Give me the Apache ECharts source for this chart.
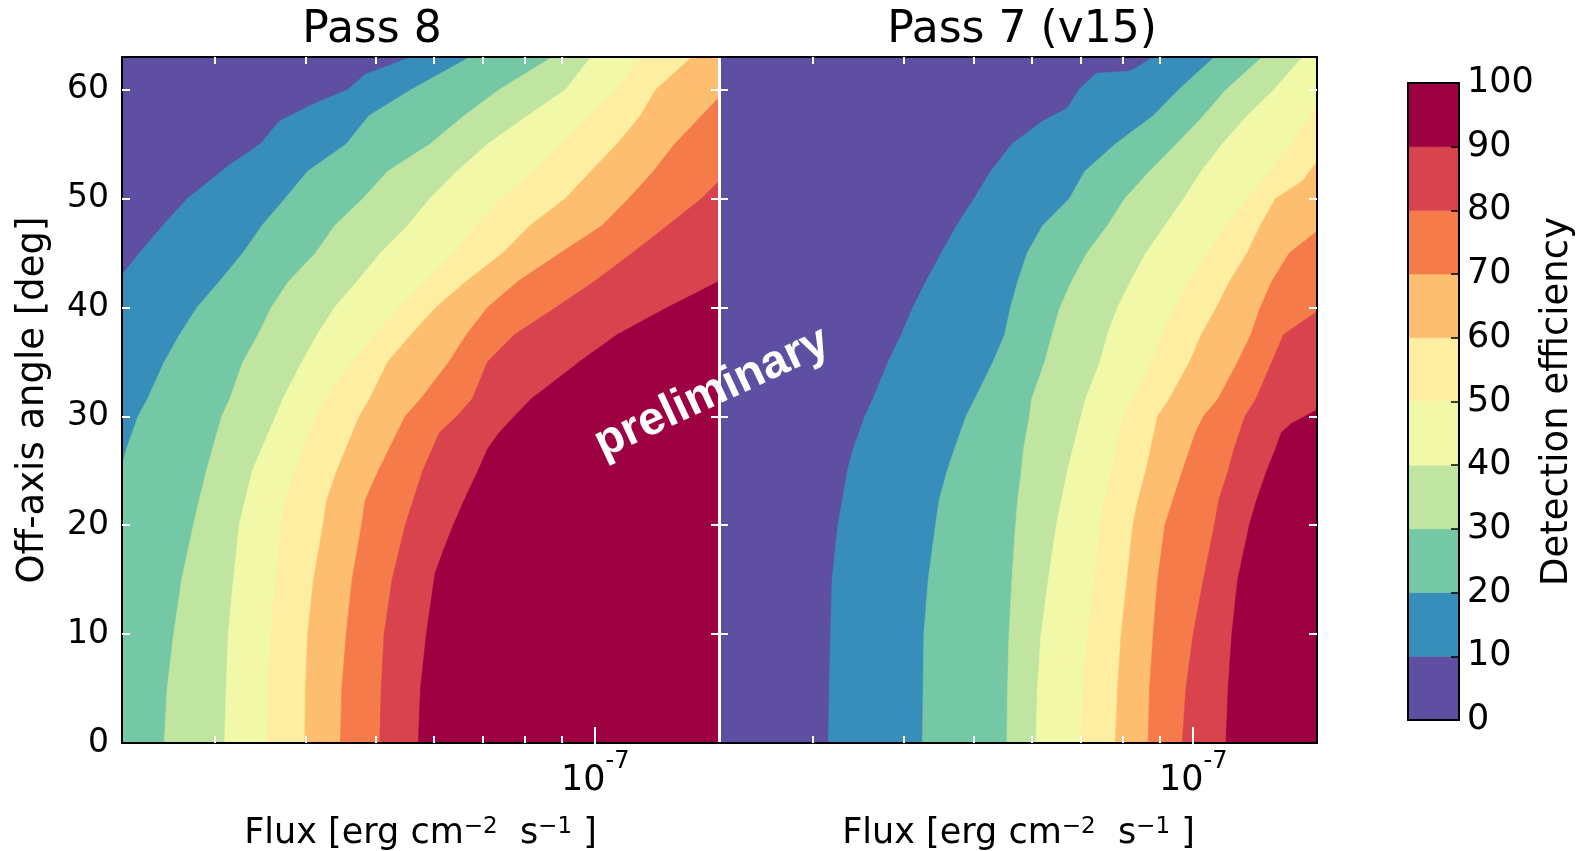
<!DOCTYPE html>
<html>
<head>
<meta charset="utf-8">
<script src="https://cdn.jsdelivr.net/npm/echarts@6/dist/echarts.min.js"></script>
<style>
  html, body { margin: 0; padding: 0; background: #ffffff; }
  #main { width: 1581px; height: 851px; }
</style>
</head>
<body>
<div id="main"></div>
<script>
// ---------------- DATA ----------------
// Efficiency levels (percent) and the filled-band colours (Spectral_r)
const levels = [0, 10, 20, 30, 40, 50, 60, 70, 80, 90, 100];
const bandColors = ['#5e4fa2', '#388eba', '#75c8a5', '#bfe5a0', '#f1f9a9',
                    '#feeea2', '#fdbf6f', '#f67b4a', '#d8434e', '#9e0142'];
// Axes
const logFluxRange = [-7.65, -6.83];          // log10(flux / erg cm^-2 s^-1)
const angleRange = [0, 63];                    // off-axis angle (deg)
const angleTicks = [0, 10, 20, 30, 40, 50, 60];
const minorFluxTicks = [2e-8, 3e-8, 4e-8, 5e-8, 6e-8, 7e-8, 8e-8, 9e-8];
const majorFluxTicks = [1e-7];
const panelTitles = ['Pass 8', 'Pass 7 (v15)'];

// Contour boundaries: [log10 flux, off-axis angle], from high angle to low angle.
// Pass 8
const pass8_10 = [[-7.253,63],[-7.316,61.4],[-7.340,60],[-7.390,58.6],[-7.434,57.1],[-7.460,55],[-7.502,53.1],[-7.560,50],[-7.589,47.9],[-7.626,45],[-7.652,43]];
const pass8_20 = [[-7.172,63],[-7.253,60],[-7.311,57.6],[-7.342,55],[-7.395,52.5],[-7.426,50],[-7.458,47.5],[-7.484,45],[-7.516,42.4],[-7.547,40],[-7.571,37.5],[-7.592,35],[-7.615,31.6],[-7.628,30],[-7.636,28.5],[-7.644,27],[-7.652,25.5]];
const pass8_30 = [[-7.059,63],[-7.132,60],[-7.180,57.6],[-7.227,55],[-7.285,52.5],[-7.319,50],[-7.358,47.5],[-7.384,45],[-7.421,42.4],[-7.445,40],[-7.463,37.5],[-7.484,35],[-7.502,31.6],[-7.513,30],[-7.534,25],[-7.544,22.3],[-7.552,20],[-7.568,15],[-7.579,10],[-7.588,5],[-7.592,0]];
const pass8_40 = [[-7.006,63],[-7.041,60],[-7.093,57.6],[-7.148,55],[-7.190,52.5],[-7.227,50],[-7.258,47.5],[-7.295,45],[-7.327,42.4],[-7.358,40],[-7.382,37.5],[-7.403,35],[-7.429,31.6],[-7.439,30],[-7.471,25],[-7.481,22.3],[-7.489,20],[-7.497,15],[-7.504,10],[-7.507,5],[-7.509,0]];
const pass8_50 = [[-6.936,63],[-6.972,60],[-7.009,57.6],[-7.048,55],[-7.085,52.5],[-7.130,50],[-7.164,47.5],[-7.195,45],[-7.235,42.4],[-7.269,40],[-7.303,37.5],[-7.334,35],[-7.371,31.6],[-7.384,30],[-7.413,25],[-7.426,22.3],[-7.432,20],[-7.439,15],[-7.446,10],[-7.450,5],[-7.451,0]];
const pass8_60 = [[-6.867,63],[-6.917,60],[-6.938,57.6],[-6.970,55],[-7.006,52.5],[-7.041,50],[-7.090,47.5],[-7.127,45],[-7.177,42.4],[-7.219,40],[-7.253,37.5],[-7.285,35],[-7.310,31.6],[-7.324,30],[-7.355,25],[-7.369,22.3],[-7.374,20],[-7.387,15],[-7.395,10],[-7.398,5],[-7.399,0]];
const pass8_70 = [[-6.82,59.3],[-6.854,57.6],[-6.891,55],[-6.920,52.5],[-6.954,50],[-6.991,47.5],[-7.048,45],[-7.106,42.4],[-7.148,40],[-7.177,37.5],[-7.201,35],[-7.240,31.6],[-7.261,30],[-7.298,25],[-7.316,22.3],[-7.321,20],[-7.334,15],[-7.342,10],[-7.348,5],[-7.350,0]];
const pass8_80 = [[-6.82,51.6],[-6.854,50],[-6.901,47.5],[-6.949,45],[-7.001,42.4],[-7.054,40],[-7.111,37.5],[-7.148,35],[-7.169,31.6],[-7.190,30],[-7.214,28.5],[-7.237,25],[-7.250,22.3],[-7.261,20],[-7.279,15],[-7.290,10],[-7.294,5],[-7.296,0]];
const pass8_90 = [[-6.82,42.4],[-6.901,40],[-6.970,37.5],[-7.022,35],[-7.088,31.6],[-7.111,30],[-7.132,28.5],[-7.148,27],[-7.161,25],[-7.180,22.3],[-7.195,20],[-7.208,17.8],[-7.220,15.6],[-7.232,10],[-7.240,5],[-7.243,0]];
// Pass 7 (v15)
const pass7_10 = [[-7.055,63],[-7.081,61.9],[-7.089,61.7],[-7.133,61.5],[-7.157,60],[-7.173,58.3],[-7.207,57.1],[-7.249,55],[-7.278,52.5],[-7.301,50],[-7.325,47.5],[-7.346,45],[-7.367,42.4],[-7.385,40],[-7.401,37.5],[-7.419,35],[-7.440,31.6],[-7.451,30],[-7.459,28.5],[-7.467,27],[-7.475,25],[-7.482,22.3],[-7.488,20],[-7.496,15],[-7.498,10],[-7.500,5],[-7.501,0]];
const pass7_20 = [[-6.971,63],[-7.020,60],[-7.055,57.6],[-7.107,55],[-7.149,52.5],[-7.170,50],[-7.207,47.5],[-7.228,45],[-7.241,42.4],[-7.251,40],[-7.259,37.5],[-7.275,35],[-7.300,31.6],[-7.312,30],[-7.320,28.5],[-7.328,27],[-7.338,25],[-7.349,22.3],[-7.354,20],[-7.364,15],[-7.370,10],[-7.371,5],[-7.372,0]];
const pass7_30 = [[-6.905,63],[-6.955,60],[-6.986,57.6],[-7.023,55],[-7.060,52.5],[-7.094,50],[-7.118,47.5],[-7.146,45],[-7.167,42.4],[-7.183,40],[-7.194,37.5],[-7.204,35],[-7.222,31.6],[-7.225,30],[-7.233,27],[-7.236,25],[-7.241,22.3],[-7.244,20],[-7.249,15],[-7.253,10],[-7.255,5],[-7.256,0]];
const pass7_40 = [[-6.850,63],[-6.889,60],[-6.926,57.6],[-6.960,55],[-6.989,52.5],[-7.013,50],[-7.039,47.5],[-7.065,45],[-7.086,42.4],[-7.104,40],[-7.118,37.5],[-7.128,35],[-7.148,31.6],[-7.154,30],[-7.173,25],[-7.181,22.3],[-7.188,20],[-7.199,15],[-7.209,10],[-7.214,5],[-7.216,0]];
const pass7_50 = [[-6.82,58.6],[-6.866,55],[-6.895,52.5],[-6.926,50],[-6.955,47.5],[-6.981,45],[-7.005,42.4],[-7.026,40],[-7.044,37.5],[-7.057,35],[-7.083,31.6],[-7.097,30],[-7.112,25],[-7.123,22.3],[-7.128,20],[-7.136,15],[-7.145,10],[-7.152,5],[-7.154,0]];
const pass7_60 = [[-6.82,53.4],[-6.850,51.6],[-6.887,50],[-6.908,47.5],[-6.926,45],[-6.950,42.4],[-6.968,40],[-6.989,37.5],[-7.005,35],[-7.033,31.6],[-7.049,30],[-7.065,25],[-7.076,22.3],[-7.083,20],[-7.091,15],[-7.099,10],[-7.104,5],[-7.107,0]];
const pass7_70 = [[-6.82,47.0],[-6.868,45],[-6.892,42.4],[-6.908,40],[-6.921,37.5],[-6.939,35],[-6.966,31.6],[-6.986,30],[-6.997,28.5],[-7.015,25],[-7.028,22.3],[-7.039,20],[-7.049,15],[-7.055,10],[-7.060,5],[-7.062,0]];
const pass7_80 = [[-6.82,39.6],[-6.850,38.7],[-6.876,37.5],[-6.892,35],[-6.914,31.6],[-6.929,30],[-6.944,27],[-6.952,25],[-6.965,22.3],[-6.971,20],[-6.986,15],[-7.000,10],[-7.010,5],[-7.015,0]];
const pass7_90 = [[-6.82,30.6],[-6.866,29.3],[-6.879,28.5],[-6.887,27],[-6.899,25],[-6.913,22.3],[-6.923,20],[-6.939,15],[-6.947,10],[-6.952,5],[-6.955,0]];

const pass8Bounds = [pass8_10, pass8_20, pass8_30, pass8_40, pass8_50, pass8_60, pass8_70, pass8_80, pass8_90];
const pass7Bounds = [pass7_10, pass7_20, pass7_30, pass7_40, pass7_50, pass7_60, pass7_70, pass7_80, pass7_90];

// ---------------- CHART ----------------
const FONT = "'DejaVu Sans', 'Liberation Sans', sans-serif";
const X_MIN = logFluxRange[0], X_MAX = logFluxRange[1];
const Y_MIN = angleRange[0], Y_MAX = angleRange[1];
const minorLog = minorFluxTicks.map(Math.log10);
const majorLog = majorFluxTicks.map(Math.log10);
const bandIndex = bandColors.map((c, i) => [i]);

function contourRenderer(bounds) {
  return function (params, api) {
    const i = api.value(0);
    let pts;
    if (i === 0) {
      pts = [[X_MIN, Y_MAX], [X_MIN, Y_MIN], [X_MAX, Y_MIN], [X_MAX, Y_MAX]];
    } else {
      pts = bounds[i - 1].concat([[X_MIN, Y_MIN], [X_MAX, Y_MIN], [X_MAX, Y_MAX]]);
    }
    const pix = pts.map(p => api.coord([
      Math.min(X_MAX, Math.max(X_MIN, p[0])),
      Math.min(Y_MAX, Math.max(Y_MIN, p[1]))
    ]));
    return {
      type: 'polygon',
      shape: { points: pix },
      style: { fill: bandColors[i], stroke: bandColors[i], lineWidth: 0.6 }
    };
  };
}

function colorbarRenderer(params, api) {
  const i = api.value(0);
  const p1 = api.coord([0, levels[i + 1]]);
  const p2 = api.coord([1, levels[i]]);
  return {
    type: 'rect',
    shape: { x: p1[0], y: p1[1], width: p2[0] - p1[0], height: p2[1] - p1[1] },
    style: { fill: bandColors[i], stroke: bandColors[i], lineWidth: 0.5 }
  };
}

const grids = [
  { left: 122, top: 57, width: 597, height: 686 },
  { left: 720, top: 57, width: 597, height: 686 },
  { left: 1408, top: 83, width: 51, height: 637 }
].map(g => Object.assign({ containLabel: false, outerBoundsMode: 'none', show: false }, g));

const xAxes = [];
const yAxes = [];
const xNameRich = {
  sup: { fontSize: 23, fontFamily: FONT, color: '#000', verticalAlign: 'top', lineHeight: 20, padding: [0, 0, 18, 0] }
};

[0, 1].forEach(p => {
  const base = { gridIndex: p, type: 'value', min: X_MIN, max: X_MAX, z: 10, splitLine: { show: false } };
  xAxes.push(Object.assign({}, base, {
    position: 'bottom',
    axisLine: { show: true, onZero: false, lineStyle: { color: '#000', width: 2 } },
    axisTick: { show: true, inside: true, length: 7, customValues: minorLog, lineStyle: { color: '#fff', width: 2 } },
    axisLabel: {
      show: true, customValues: majorLog, margin: 7,
      formatter: v => Math.abs(v + 7) < 1e-6 ? '{b|10}{s|-7}' : '',
      rich: {
        b: { fontSize: 35, fontFamily: FONT, color: '#000', verticalAlign: 'bottom', lineHeight: 48 },
        s: { fontSize: 24, fontFamily: FONT, color: '#000', verticalAlign: 'top', lineHeight: 48, padding: [0, 0, 20, 0] }
      }
    },
    name: 'Flux [erg cm{sup|\u22122}  s{sup|\u22121} ]',
    nameLocation: 'middle', nameGap: 73,
    nameTextStyle: { fontSize: 35, fontFamily: FONT, color: '#000', rich: xNameRich }
  }));
  xAxes.push(Object.assign({}, base, {
    position: 'bottom',
    axisLine: { show: false },
    axisTick: { show: true, inside: true, length: 16, customValues: majorLog, lineStyle: { color: '#fff', width: 2 } },
    axisLabel: { show: false }
  }));
  xAxes.push(Object.assign({}, base, {
    position: 'top',
    axisLine: { show: true, onZero: false, lineStyle: { color: '#000', width: 2 } },
    axisTick: { show: true, inside: true, length: 7, customValues: minorLog, lineStyle: { color: '#fff', width: 2 } },
    axisLabel: { show: false }
  }));
  xAxes.push(Object.assign({}, base, {
    position: 'top',
    axisLine: { show: false },
    axisTick: { show: true, inside: true, length: 16, customValues: majorLog, lineStyle: { color: '#fff', width: 2 } },
    axisLabel: { show: false }
  }));

  const ybase = { gridIndex: p, type: 'value', min: Y_MIN, max: Y_MAX, z: 10, splitLine: { show: false } };
  yAxes.push(Object.assign({}, ybase, {
    position: 'left',
    axisLine: { show: true, onZero: false, lineStyle: { color: p === 0 ? '#000' : '#fff', width: 2 } },
    axisTick: { show: true, inside: true, length: 8, customValues: angleTicks.slice(1), lineStyle: { color: '#fff', width: 2 } },
    axisLabel: { show: p === 0, customValues: angleTicks, margin: 13, fontSize: 33, fontFamily: FONT, color: '#000' },
    name: p === 0 ? 'Off-axis angle [deg]' : '',
    nameLocation: 'middle', nameRotate: 90, nameGap: 70,
    nameTextStyle: { fontSize: 37, fontFamily: FONT, color: '#000' }
  }));
  yAxes.push(Object.assign({}, ybase, {
    position: 'right',
    axisLine: { show: true, onZero: false, lineStyle: { color: p === 0 ? '#fff' : '#000', width: 2 } },
    axisTick: { show: true, inside: true, length: 8, customValues: angleTicks.slice(1), lineStyle: { color: '#fff', width: 2 } },
    axisLabel: { show: false }
  }));
});

// colorbar axes
xAxes.push({ gridIndex: 2, type: 'value', min: 0, max: 1, position: 'bottom', z: 10,
  axisLine: { show: true, onZero: false, lineStyle: { color: '#000', width: 2 } },
  axisTick: { show: false }, axisLabel: { show: false }, splitLine: { show: false } });
xAxes.push({ gridIndex: 2, type: 'value', min: 0, max: 1, position: 'top', z: 10,
  axisLine: { show: true, onZero: false, lineStyle: { color: '#000', width: 2 } },
  axisTick: { show: false }, axisLabel: { show: false }, splitLine: { show: false } });
yAxes.push({ gridIndex: 2, type: 'value', min: 0, max: 100, interval: 10, position: 'left', z: 10,
  axisLine: { show: true, onZero: false, lineStyle: { color: '#000', width: 2 } },
  axisTick: { show: false }, axisLabel: { show: false }, splitLine: { show: false } });
yAxes.push({ gridIndex: 2, type: 'value', min: 0, max: 100, interval: 10, position: 'right', z: 10,
  axisLine: { show: true, onZero: false, lineStyle: { color: '#000', width: 2 } },
  axisTick: { show: true, inside: true, length: 8, lineStyle: { color: '#000', width: 1.5 } },
  axisLabel: { show: true, margin: 8, fontSize: 35, fontFamily: FONT, color: '#000' },
  splitLine: { show: false },
  name: 'Detection efficiency', nameLocation: 'middle', nameRotate: 90, nameGap: 80,
  nameTextStyle: { fontSize: 37, fontFamily: FONT, color: '#000' } });

const option = {
  animation: false,
  backgroundColor: '#ffffff',
  textStyle: { fontFamily: FONT },
  grid: grids,
  xAxis: xAxes,
  yAxis: yAxes,
  series: [
    { type: 'custom', name: panelTitles[0], coordinateSystem: 'cartesian2d', xAxisIndex: 0, yAxisIndex: 0,
      clip: true, z: 2, data: bandIndex, renderItem: contourRenderer(pass8Bounds) },
    { type: 'custom', name: panelTitles[1], coordinateSystem: 'cartesian2d', xAxisIndex: 4, yAxisIndex: 2,
      clip: true, z: 2, data: bandIndex, renderItem: contourRenderer(pass7Bounds) },
    { type: 'custom', name: 'colorbar', coordinateSystem: 'cartesian2d', xAxisIndex: 8, yAxisIndex: 4,
      z: 2, data: bandIndex, renderItem: colorbarRenderer }
  ],
  graphic: [
    { type: 'text', x: 372, y: 31, z: 100,
      style: { text: panelTitles[0], font: "44px 'DejaVu Sans', sans-serif", fill: '#000', textAlign: 'center', textVerticalAlign: 'middle' } },
    { type: 'text', x: 1022, y: 31, z: 100,
      style: { text: panelTitles[1], font: "44px 'DejaVu Sans', sans-serif", fill: '#000', textAlign: 'center', textVerticalAlign: 'middle' } },
    { type: 'text', x: 712, y: 393, z: 100, rotation: 25 * Math.PI / 180,
      style: { text: 'preliminary', font: "bold 47px 'Liberation Sans', Arial, sans-serif", fill: '#ffffff', textAlign: 'center', textVerticalAlign: 'middle' } }
  ]
};

const chart = echarts.init(document.getElementById('main'), null, { renderer: 'canvas', width: 1581, height: 851 });
chart.setOption(option);
</script>
</body>
</html>
